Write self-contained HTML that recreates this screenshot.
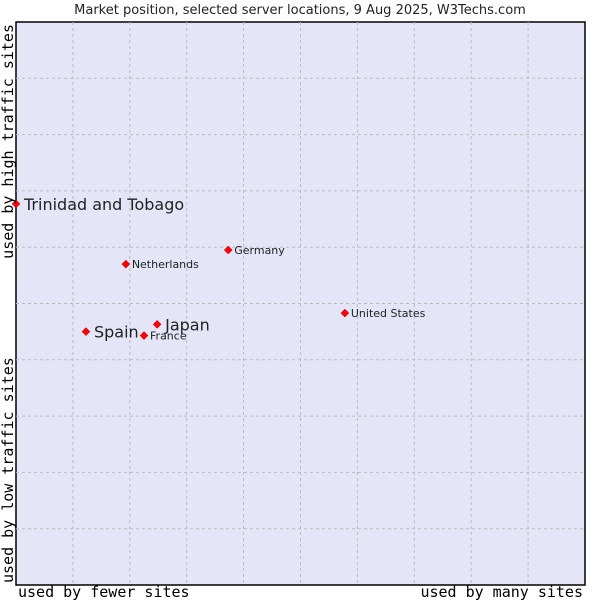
<!DOCTYPE html>
<html><head><meta charset="utf-8"><style>
body{margin:0;background:#fff;width:600px;height:600px;overflow:hidden}
svg text{font-family:"DejaVu Sans","Liberation Sans",sans-serif;fill:#222}
.mono{font-family:"DejaVu Sans Mono","Liberation Mono",monospace !important;fill:#000}
</style></head><body>
<svg id="chart" width="600" height="600" xmlns="http://www.w3.org/2000/svg">
<text x="300" y="14" text-anchor="middle" font-size="13">Market position, selected server locations, 9 Aug 2025, W3Techs.com</text>
<rect x="16" y="22" width="569" height="563" fill="#e4e6f8" stroke="#000" stroke-width="1.5"/>
<g id="grid"></g>
<g id="points"></g>
<text class="mono" x="18" y="597" font-size="15">used by fewer sites</text>
<text class="mono" x="583" y="597" text-anchor="end" font-size="15">used by many sites</text>
<text class="mono" transform="translate(13,24) rotate(-90)" text-anchor="end" font-size="15">used by high traffic sites</text>
<text class="mono" transform="translate(13,583) rotate(-90)" font-size="15">used by low traffic sites</text>
</svg>
<script>
const countries=["Trinidad and Tobago","Netherlands","Germany","United States","Spain","Japan","France"];
const xValues=[0,19.3,37.3,57.8,12.3,24.8,22.5];
const yValues=[67.7,57.0,59.5,48.3,45.0,46.3,44.3];
const bigLabel=[true,false,false,false,true,true,false];
const L=16,T=22,W=569,H=563,NS="http://www.w3.org/2000/svg";
const sx=v=>L+v/100*W, sy=v=>T+H-v/100*H;
const g=document.getElementById('grid'),p=document.getElementById('points');
for(let i=1;i<10;i++){
 const a=document.createElementNS(NS,'line');
 
 
 const x=sx(i*10);a.setAttribute('x1',x);a.setAttribute('x2',x);a.setAttribute('y1',T);a.setAttribute('y2',T+H);
 a.setAttribute('stroke','#bbb');a.setAttribute('stroke-dasharray','3,3');g.appendChild(a);
 const b=document.createElementNS(NS,'line');
 
 
 const y=sy(i*10);b.setAttribute('y1',y);b.setAttribute('y2',y);b.setAttribute('x1',L);b.setAttribute('x2',L+W);
 b.setAttribute('stroke','#bbb');b.setAttribute('stroke-dasharray','3,3');g.appendChild(b);
}
countries.forEach((c,i)=>{
 const x=sx(xValues[i]),y=sy(yValues[i]);
 const m=document.createElementNS(NS,'polygon');
 
 
 m.setAttribute('points',`${x},${y-4} ${x+4},${y} ${x},${y+4} ${x-4},${y}`);
 m.setAttribute('fill','#f00');m.setAttribute('stroke','#b00');m.setAttribute('stroke-width','0.5');
 p.appendChild(m);
 const t=document.createElementNS(NS,'text');
 
 
 const big=bigLabel[i];
 t.setAttribute('x',x+(big?8:6));t.setAttribute('y',y+(big?6:4));
 t.setAttribute('font-size',big?16:11);t.textContent=c;p.appendChild(t);
});
</script>
</body></html>
